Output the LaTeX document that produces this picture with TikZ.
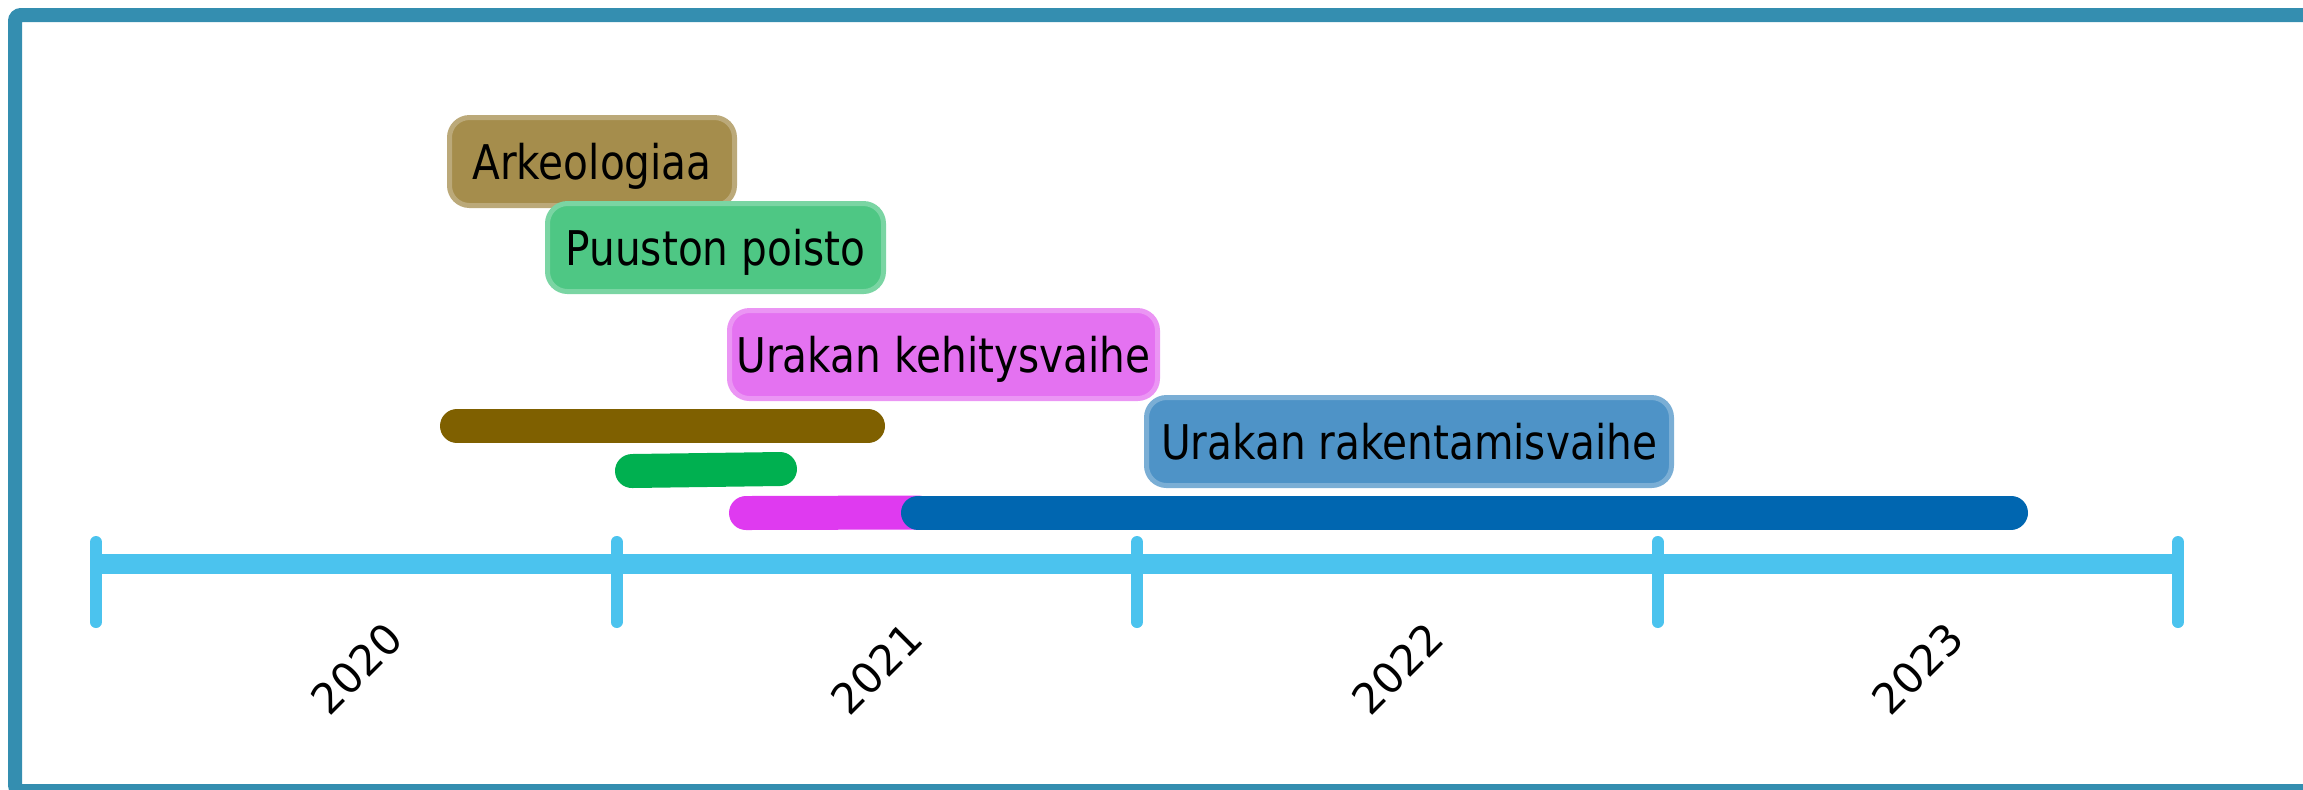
\documentclass[tikz,border=0pt]{standalone}
\usepackage{fontspec}
\setmainfont{DejaVu Sans}[FakeStretch=0.85]
\newfontfamily\yearfont{DejaVu Sans}
\usepackage{tikz}
\usetikzlibrary{positioning}
\definecolor{framecol}{RGB}{52,142,176}
\definecolor{axiscol}{RGB}{75,195,238}
\definecolor{arkbar}{RGB}{127,96,0}
\definecolor{arkbox}{RGB}{165,141,76}
\definecolor{puubar}{RGB}{0,176,80}
\definecolor{puubox}{RGB}{78,199,132}
\definecolor{kehbar}{RGB}{223,58,240}
\definecolor{kehbox}{RGB}{228,114,241}
\definecolor{rakbar}{RGB}{0,102,176}
\definecolor{rakbox}{RGB}{78,147,199}
\def\tickstep{520.5}
\def\axisy{564}
\tikzstyle{labelbox}=[rectangle, rounded corners=2mm, minimum
height=8.8mm, inner sep=0pt, line width=0.5mm, text height=3.5mm,
text depth=0pt, font=\fontsize{13.6}{16}\selectfont]
\tikzstyle{taskbar}=[line width=3.4mm, line cap=round]

\begin{document}
\begin{tikzpicture}[x=0.1mm, y=-0.1mm]
	\tikzstyle{yearlabel}=[rotate=45, inner sep=0pt,
	font=\yearfont\fontsize{12}{14}\selectfont]
\useasboundingbox (0,0) rectangle (2303,789);
\clip (0,0) rectangle (2303,789);

% Frame
\draw[framecol, line width=1.4mm, rounded corners=0.6mm] (15,15) rectangle (2330,791);

% Labels
\node[labelbox, minimum width=28.5mm, fill=arkbox, draw=arkbox!75!white] (arklabel) at (592,161.5) {Arkeologiaa};
\node[labelbox, minimum width=33.6mm, fill=puubox, draw=puubox!75!white] (puulabel) at (715.5,247.5) {Puuston poisto};
\node[labelbox, minimum width=42.8mm, fill=kehbox, draw=kehbox!75!white] (kehlabel) at (943.5,354.5) {Urakan kehitysvaihe};
\node[labelbox, minimum width=52.5mm, fill=rakbox, draw=rakbox!75!white] (raklabel) at (1409,441.5) {Urakan rakentamisvaihe};

% Bars
\coordinate (arkstart) at (457,426);
\coordinate (arkend) at (868,426);
\coordinate (puustart) at (632,471);
\coordinate (puuend) at (780,469);
\coordinate (kehstart) at (746,513);
\coordinate (kehend) at (918,512.5);
\coordinate (rakend) at (2011,512.5);
\draw[taskbar, arkbar] (arkstart) -- (arkend);
\draw[taskbar, puubar] (puustart) -- (puuend);
\draw[taskbar, kehbar] (kehstart) -- (kehend);
\draw[taskbar, rakbar] (kehend) -- (rakend);

% Axis
\coordinate (axisstart) at (96,\axisy);
\coordinate (axisend) at (2178,\axisy);
\draw[axiscol, line width=2mm] (axisstart) -- (axisend);
\foreach \i in {0,...,4}
	\draw[axiscol, line width=1.2mm, line cap=round] ({96+\i*\tickstep},542) -- ({96+\i*\tickstep},622);

% Years
\foreach \yr [count=\i] in {2020,2021,2022,2023}
	\node[yearlabel] (year\yr) at ({356.25+(\i-1)*\tickstep},669) {\yr};

\end{tikzpicture}
\end{document}
